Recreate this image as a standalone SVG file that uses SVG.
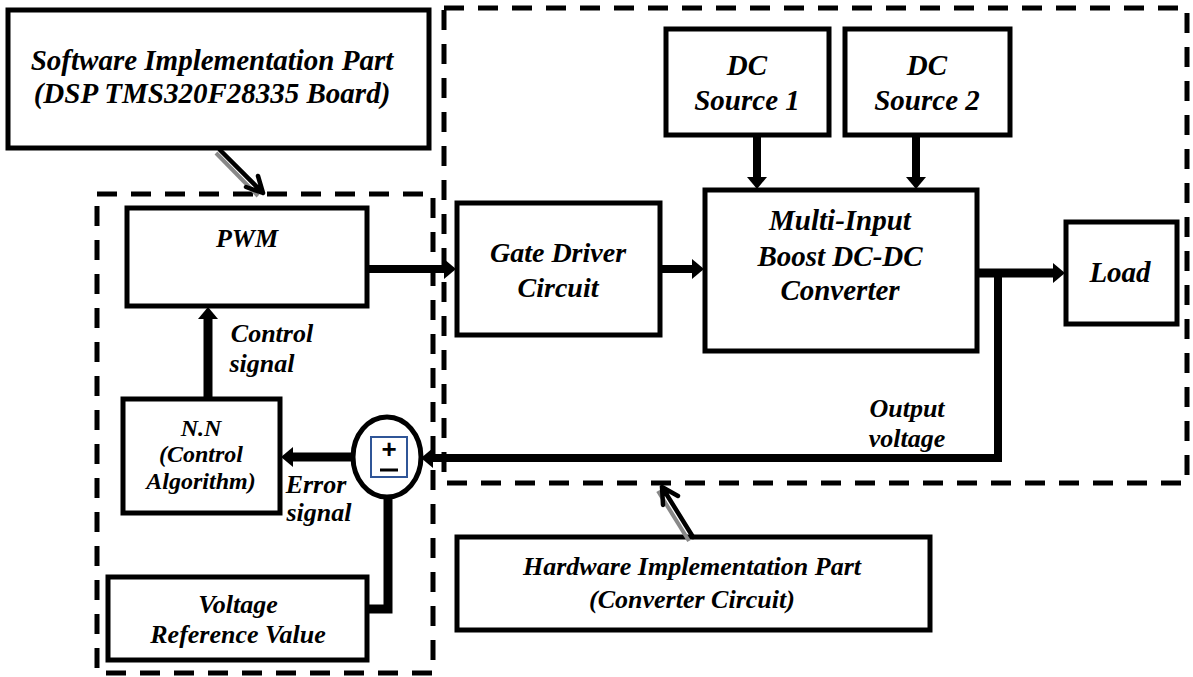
<svg xmlns="http://www.w3.org/2000/svg" width="1193" height="677" viewBox="0 0 1193 677">
<style>
.box{fill:#fff;stroke:#000;stroke-width:5}
.dash{fill:none;stroke:#000;stroke-width:5;stroke-dasharray:20 14}
.t{font-family:"Liberation Serif","Times New Roman",serif;font-weight:bold;font-style:italic;fill:#000;text-anchor:middle}
.c{stroke:#000;fill:none}
.ptr{stroke:#000;stroke-width:4.5;fill:none;stroke-linecap:round;stroke-linejoin:round}
.sh{stroke:#888;stroke-width:4;fill:none}
</style>
<defs>
<marker id="ah" markerUnits="userSpaceOnUse" markerWidth="12" markerHeight="20" refX="1" refY="10" orient="auto">
<path d="M0,0 L12,10 L0,20 z" fill="#000"/>
</marker>
</defs>
<rect width="1193" height="677" fill="#fff"/>
<g id="regions">
<rect class="dash" x="97" y="194" width="336" height="479"/>
<rect class="dash" x="444" y="8" width="743" height="475"/>
</g>
<g id="software-label">
<rect class="box" x="8" y="10" width="421" height="138"/>
<text class="t" x="212" y="70" font-size="29">Software Implementation Part</text>
<text class="t" x="212" y="103" font-size="29">(DSP TMS320F28335 Board)</text>
</g>
<g id="hardware-label">
<rect class="box" x="457" y="537" width="473" height="93"/>
<text class="t" x="692" y="575" font-size="26">Hardware Implementation Part</text>
<text class="t" x="692" y="608" font-size="26">(Converter Circuit)</text>
</g>
<g id="pwm">
<rect class="box" x="127" y="208" width="240" height="98"/>
<text class="t" x="247" y="247" font-size="26">PWM</text>
</g>
<g id="nn">
<rect class="box" x="123" y="399" width="157" height="114"/>
<text class="t" x="201" y="436" font-size="24">N.N</text>
<text class="t" x="201" y="462" font-size="24">(Control</text>
<text class="t" x="201" y="489" font-size="24">Algorithm)</text>
</g>
<g id="vref">
<rect class="box" x="108" y="577" width="259" height="83"/>
<text class="t" x="238" y="613" font-size="26">Voltage</text>
<text class="t" x="238" y="643" font-size="26">Reference Value</text>
</g>
<g id="gate">
<rect class="box" x="457" y="203" width="203" height="132"/>
<text class="t" x="558" y="262" font-size="28">Gate Driver</text>
<text class="t" x="558" y="297" font-size="28">Circuit</text>
</g>
<g id="dc1">
<rect class="box" x="666" y="29" width="163" height="106"/>
<text class="t" x="747" y="75" font-size="29">DC</text>
<text class="t" x="747" y="110" font-size="29">Source 1</text>
</g>
<g id="dc2">
<rect class="box" x="845" y="29" width="165" height="106"/>
<text class="t" x="927" y="75" font-size="29">DC</text>
<text class="t" x="927" y="110" font-size="29">Source 2</text>
</g>
<g id="converter">
<rect class="box" x="705" y="190" width="272" height="161"/>
<text class="t" x="840" y="230" font-size="29">Multi-Input</text>
<text class="t" x="840" y="266" font-size="29">Boost DC-DC</text>
<text class="t" x="840" y="300" font-size="29">Converter</text>
</g>
<g id="load">
<rect class="box" x="1066" y="222" width="111" height="102"/>
<text class="t" x="1120" y="282" font-size="29">Load</text>
</g>
<g id="labels">
<text class="t" x="272" y="342" font-size="26">Control</text>
<text class="t" x="262" y="372" font-size="26">signal</text>
<text class="t" x="316" y="493" font-size="26">Error</text>
<text class="t" x="319" y="521" font-size="26">signal</text>
<text class="t" x="907" y="417" font-size="26">Output</text>
<text class="t" x="907" y="447" font-size="26">voltage</text>
</g>
<g id="connectors">
<line class="c" stroke-width="8" x1="367" y1="269" x2="445" y2="269" marker-end="url(#ah)"/>
<line class="c" stroke-width="8" x1="660" y1="269" x2="693" y2="269" marker-end="url(#ah)"/>
<line class="c" stroke-width="8" x1="757" y1="135" x2="757" y2="178" marker-end="url(#ah)"/>
<line class="c" stroke-width="8" x1="916" y1="135" x2="916" y2="178" marker-end="url(#ah)"/>
<line class="c" stroke-width="9" x1="977" y1="273" x2="1054" y2="273" marker-end="url(#ah)"/>
<polyline class="c" stroke-width="8" points="998,270 998,458 432,458" marker-end="url(#ah)"/>
<line class="c" stroke-width="9" x1="353" y1="457" x2="292" y2="457" marker-end="url(#ah)"/>
<line class="c" stroke-width="9" x1="208" y1="399" x2="208" y2="318" marker-end="url(#ah)"/>
<polyline class="c" stroke-width="9" points="367,609 388,609 388,497"/>
<path class="sh" d="M216,153 L258,196"/>
<path class="ptr" d="M220,150 L263,193 M246,187 L263,193 L258,176"/>
<path class="sh" d="M689,541 L658,491"/>
<path class="ptr" d="M693,537 L662,487 M663,505 L662,487 L678,496"/>
</g>
<g id="sum">
<ellipse cx="387" cy="457" rx="34" ry="40" fill="#fff" stroke="#000" stroke-width="5"/>
<rect x="371" y="437" width="36" height="40" fill="#fff" stroke="#2f5597" stroke-width="2"/>
<text x="389" y="458" font-family="Liberation Sans, Arial, sans-serif" font-size="26" font-weight="bold" text-anchor="middle">+</text>
<line x1="380" y1="470" x2="398" y2="470" stroke="#000" stroke-width="3"/>
</g>
</svg>
